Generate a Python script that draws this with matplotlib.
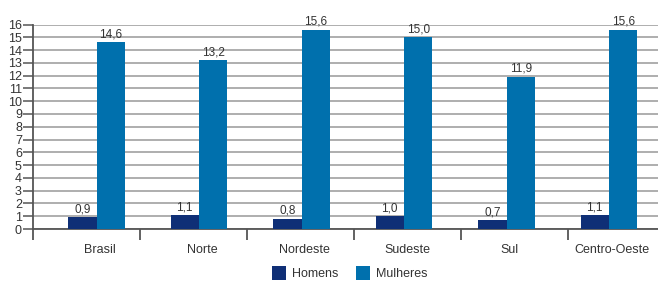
import matplotlib.pyplot as plt
import numpy as np

regioes = ['Brasil', 'Norte', 'Nordeste', 'Sudeste', 'Sul', 'Centro-Oeste']
homens = [0.9, 1.1, 0.8, 1.0, 0.7, 1.1]
mulheres = [14.6, 13.2, 15.6, 15.0, 11.9, 15.6]

plt.rcParams['font.family'] = ['Liberation Sans', 'DejaVu Sans']

cor_h = '#0f2f76'
cor_m = '#0070ad'
cinza = '#333333'

fig = plt.figure(figsize=(6.58, 2.81), dpi=100)
ax = fig.add_axes([33/658, 52/281, 625/658, 204.5/281])

# 1 unidade = 102.5 px; grupos em 96.5 + 102.5*i
x = np.arange(len(regioes))
w = 0.278
b1 = ax.bar(x - w/2, homens, w, color=cor_h, label='Homens', zorder=3)
b2 = ax.bar(x + w/2, mulheres, w, color=cor_m, label='Mulheres', zorder=3)

for barras, vals in ((b1, homens), (b2, mulheres)):
    for r, v in zip(barras, vals):
        ax.text(r.get_x() + r.get_width()/2, v + 0.15, f'{v:.1f}'.replace('.', ','),
                ha='center', va='bottom', fontsize=8.5, color=cinza, zorder=4)

ax.set_xlim(-0.6195, 5.478)
ax.set_ylim(0, 16)
ax.set_yticks(range(0, 17))
ax.yaxis.grid(True, color='#a8a8a8', linewidth=1.3, zorder=0)

ax.set_xticks(x + 0.03)
ax.set_xticklabels(regioes)
ax.set_xticks((33 + 107*np.arange(6) - 96.5) / 102.5, minor=True)
ax.tick_params(axis='x', which='major', length=0, pad=11, labelsize=9, labelcolor=cinza)
ax.tick_params(axis='x', which='minor', length=8, width=1.3, color='#555555', direction='out')
ax.tick_params(axis='y', length=7, width=1.1, color='#555555', pad=1, labelsize=9, labelcolor=cinza)

for s in ['top', 'right']:
    ax.spines[s].set_visible(False)
for s in ['left', 'bottom']:
    ax.spines[s].set_color('#555555')
    ax.spines[s].set_linewidth(1.3)

fig.legend(handles=[b1, b2], loc='center', bbox_to_anchor=(350/658, 8/281), ncol=2,
           frameon=False, fontsize=9, handlelength=1.1, handleheight=1.3,
           handletextpad=0.5, columnspacing=1.4, labelcolor=cinza)

fig.savefig('out.png', dpi=100)
